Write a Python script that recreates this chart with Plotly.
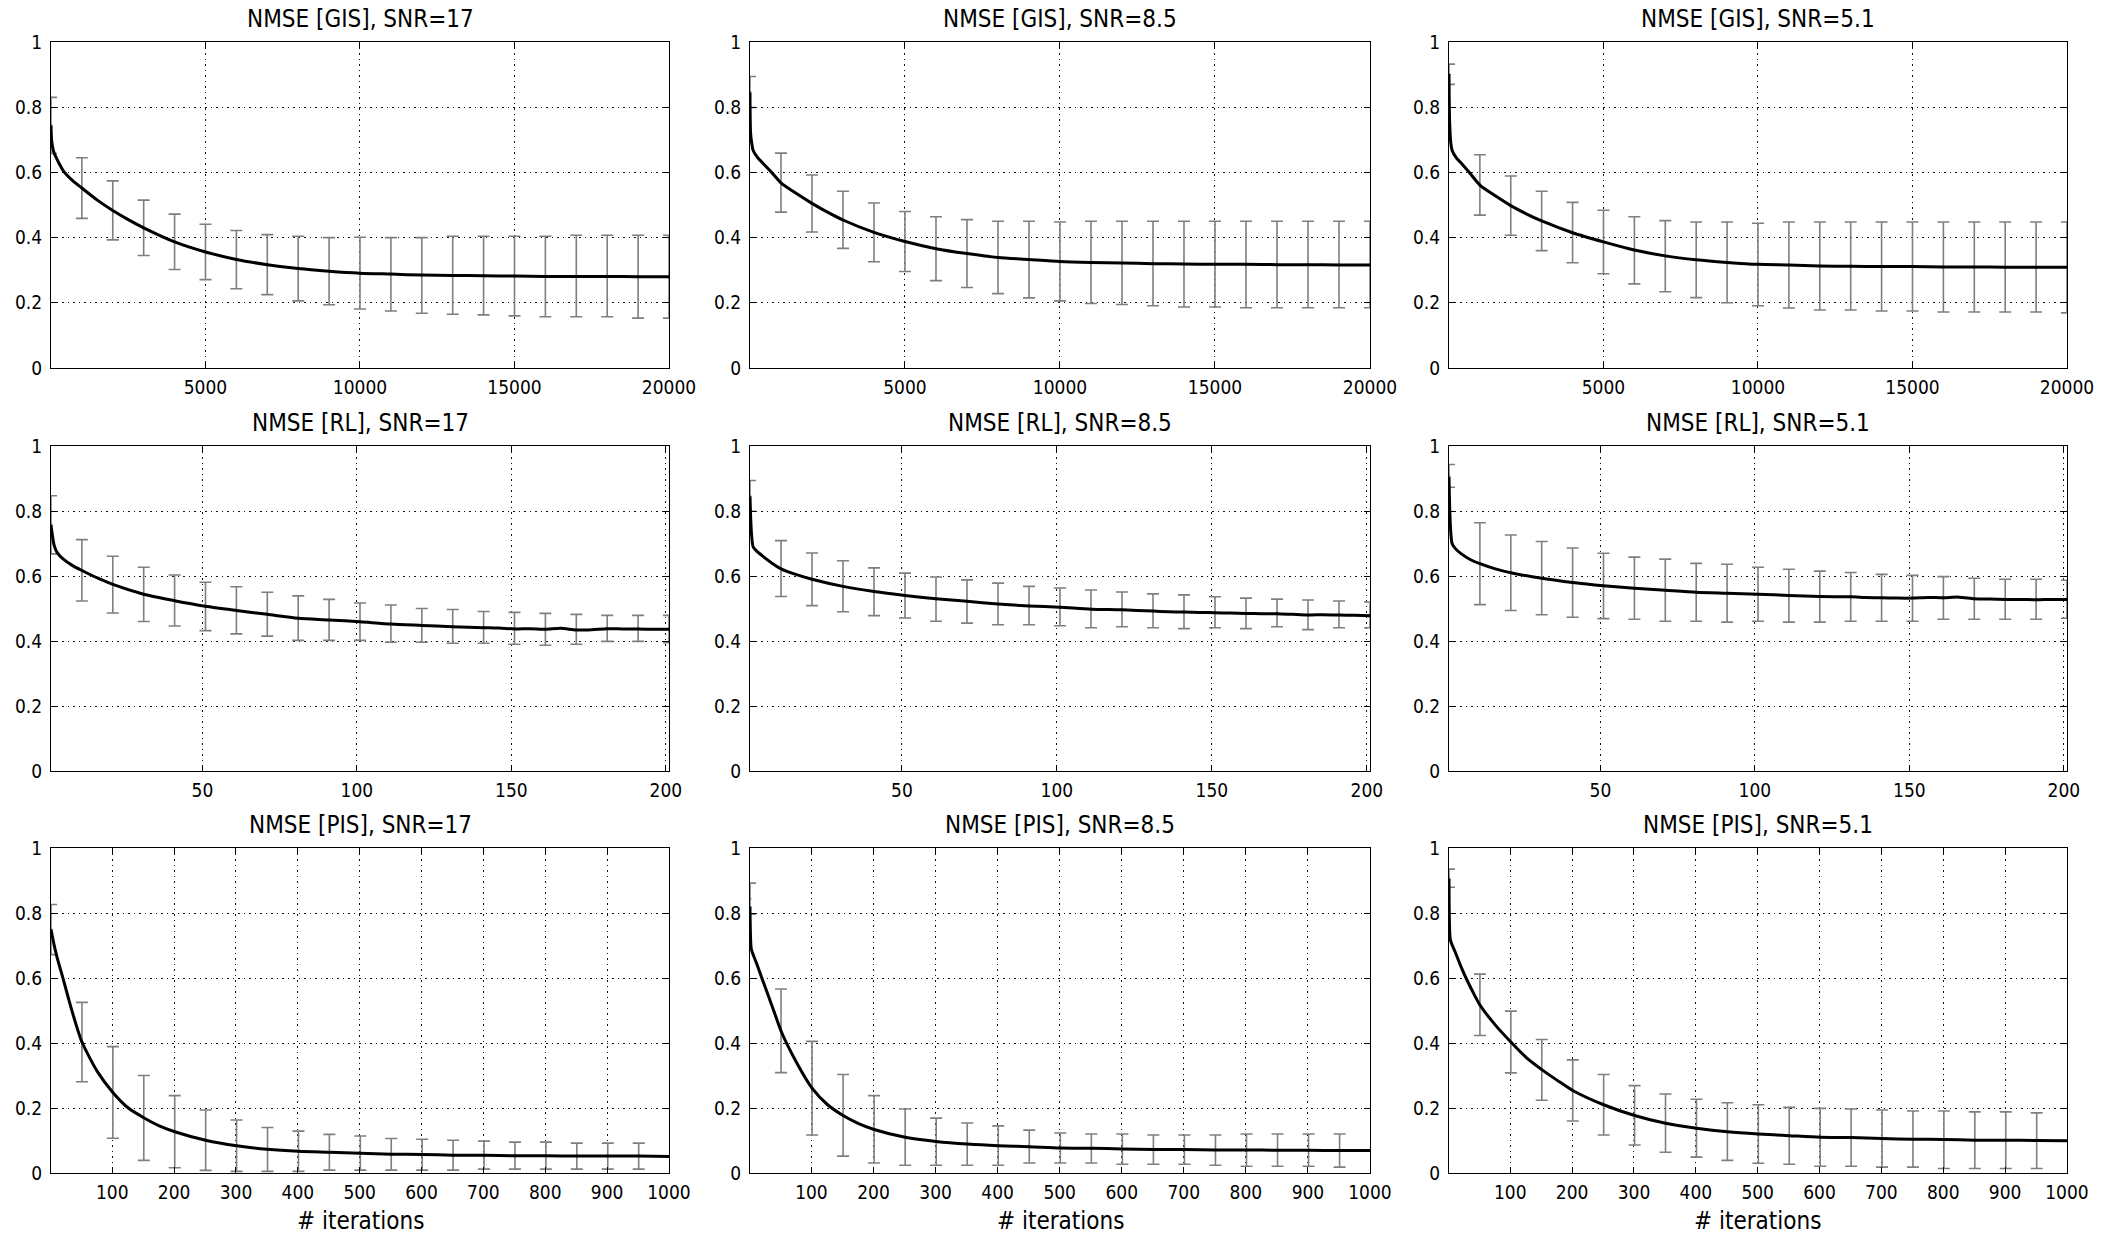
import plotly.graph_objects as go

# ---------------- data ----------------
y_ticks = [0, 0.2, 0.4, 0.6, 0.8, 1]
gis_ticks = [5000, 10000, 15000, 20000]
rl_ticks = [50, 100, 150, 200]
pis_ticks = [100, 200, 300, 400, 500, 600, 700, 800, 900, 1000]

gis_range = [1, 20000]
rl_range = [1, 201]
pis_range = [1, 1000]

titles = ["NMSE [GIS], SNR=17", "NMSE [GIS], SNR=8.5", "NMSE [GIS], SNR=5.1",
          "NMSE [RL], SNR=17", "NMSE [RL], SNR=8.5", "NMSE [RL], SNR=5.1",
          "NMSE [PIS], SNR=17", "NMSE [PIS], SNR=8.5", "NMSE [PIS], SNR=5.1"]
x_label = "# iterations"

# error-bar positions
gis_eb_x = [1, 1000, 2000, 3000, 4000, 5000, 6000, 7000, 8000, 9000, 10000,
            11000, 12000, 13000, 14000, 15000, 16000, 17000, 18000, 19000, 20000]
rl_eb_x = [1, 11, 21, 31, 41, 51, 61, 71, 81, 91, 101, 111, 121, 131, 141,
           151, 161, 171, 181, 191, 201]
pis_eb_x = [1, 51, 101, 151, 201, 251, 301, 351, 401, 451, 501, 551, 601,
            651, 701, 751, 801, 851, 901, 951]

# mean curves
gis_cx = [1, 20, 60, 100, 250, 400, 700, 1000, 1500, 2000, 2500, 3000, 4000,
          5000, 6000, 7000, 8000, 9000, 10000, 11000, 12000, 13000, 14000,
          15000, 16000, 17000, 18000, 19000, 20000]
gis17_cy = [0.744, 0.700, 0.675, 0.660, 0.630, 0.605, 0.575, 0.552, 0.515, 0.483,
            0.455, 0.430, 0.387, 0.356, 0.333, 0.317, 0.305, 0.297, 0.291, 0.288,
            0.285, 0.284, 0.283, 0.282, 0.281, 0.281, 0.281, 0.280, 0.280]
gis85_cy = [0.845, 0.720, 0.688, 0.668, 0.645, 0.630, 0.600, 0.568, 0.535, 0.505,
            0.478, 0.454, 0.416, 0.388, 0.366, 0.351, 0.339, 0.333, 0.327, 0.324,
            0.322, 0.320, 0.319, 0.318, 0.318, 0.317, 0.317, 0.316, 0.316]
gis51_cy = [0.902, 0.760, 0.690, 0.668, 0.643, 0.628, 0.595, 0.561, 0.528, 0.498,
            0.473, 0.451, 0.415, 0.387, 0.362, 0.344, 0.332, 0.324, 0.318, 0.316,
            0.313, 0.312, 0.311, 0.311, 0.310, 0.310, 0.309, 0.309, 0.309]

rl_cx = [1, 2, 3, 5, 8, 11, 16, 21, 31, 41, 51, 61, 71, 81, 91, 101, 111, 121,
         131, 136, 141, 146, 151, 156, 161, 166, 171, 176, 181, 186, 191, 196, 201]
rl17_cy = [0.757, 0.695, 0.672, 0.652, 0.632, 0.617, 0.594, 0.574, 0.544, 0.524,
           0.507, 0.494, 0.482, 0.470, 0.465, 0.459, 0.452, 0.448, 0.444, 0.442,
           0.441, 0.440, 0.437, 0.438, 0.436, 0.439, 0.434, 0.435, 0.438, 0.437,
           0.437, 0.436, 0.436]
rl85_cy = [0.845, 0.690, 0.678, 0.662, 0.640, 0.622, 0.604, 0.590, 0.568, 0.552,
           0.540, 0.530, 0.522, 0.514, 0.508, 0.504, 0.498, 0.496, 0.492, 0.490,
           0.489, 0.488, 0.487, 0.486, 0.485, 0.484, 0.484, 0.482, 0.480, 0.481,
           0.480, 0.479, 0.478]
rl51_cy = [0.905, 0.700, 0.685, 0.668, 0.650, 0.638, 0.622, 0.610, 0.593, 0.580,
           0.570, 0.562, 0.556, 0.550, 0.547, 0.544, 0.540, 0.537, 0.536, 0.534,
           0.533, 0.532, 0.532, 0.534, 0.533, 0.535, 0.530, 0.529, 0.528, 0.528,
           0.527, 0.528, 0.528]

pis_cx = [1, 3, 6, 11, 21, 31, 41, 51, 76, 101, 126, 151, 176, 201, 251, 301, 351,
          401, 451, 501, 551, 601, 651, 701, 751, 801, 851, 901, 951, 1000]
pis17_cy = [0.749, 0.730, 0.702, 0.662, 0.595, 0.525, 0.460, 0.403, 0.312, 0.248,
            0.200, 0.170, 0.145, 0.127, 0.101, 0.084, 0.073, 0.067, 0.064, 0.061,
            0.058, 0.057, 0.055, 0.055, 0.053, 0.053, 0.052, 0.052, 0.052, 0.051]
pis85_cy = [0.820, 0.690, 0.672, 0.648, 0.595, 0.543, 0.490, 0.437, 0.340, 0.261,
            0.210, 0.177, 0.152, 0.134, 0.110, 0.097, 0.089, 0.084, 0.081, 0.077,
            0.076, 0.074, 0.072, 0.072, 0.071, 0.071, 0.070, 0.070, 0.069, 0.069]
pis51_cy = [0.905, 0.720, 0.702, 0.680, 0.632, 0.590, 0.552, 0.517, 0.455, 0.403,
            0.355, 0.318, 0.285, 0.254, 0.210, 0.177, 0.153, 0.138, 0.127, 0.120,
            0.115, 0.110, 0.109, 0.106, 0.104, 0.103, 0.101, 0.101, 0.100, 0.099]

# error-bar upper / lower ends
gis17_hi = [0.830, 0.645, 0.574, 0.515, 0.472, 0.441, 0.422, 0.409, 0.404, 0.400, 0.401,
            0.400, 0.400, 0.404, 0.404, 0.404, 0.404, 0.407, 0.407, 0.407, 0.407]
gis17_lo = [0.658, 0.459, 0.393, 0.345, 0.302, 0.271, 0.243, 0.225, 0.206, 0.194, 0.181,
            0.175, 0.168, 0.165, 0.163, 0.160, 0.157, 0.157, 0.157, 0.153, 0.153]
gis85_hi = [0.894, 0.659, 0.592, 0.542, 0.506, 0.480, 0.464, 0.455, 0.450, 0.450, 0.448,
            0.450, 0.450, 0.450, 0.450, 0.450, 0.450, 0.450, 0.450, 0.450, 0.450]
gis85_lo = [0.799, 0.478, 0.417, 0.367, 0.326, 0.296, 0.268, 0.247, 0.228, 0.215, 0.206,
            0.198, 0.195, 0.191, 0.187, 0.187, 0.185, 0.185, 0.185, 0.185, 0.185]
gis51_hi = [0.932, 0.654, 0.589, 0.542, 0.508, 0.484, 0.464, 0.452, 0.448, 0.448, 0.444,
            0.448, 0.448, 0.448, 0.448, 0.448, 0.448, 0.448, 0.448, 0.448, 0.448]
gis51_lo = [0.870, 0.469, 0.407, 0.360, 0.323, 0.289, 0.258, 0.234, 0.216, 0.200, 0.191,
            0.184, 0.178, 0.178, 0.175, 0.175, 0.172, 0.172, 0.172, 0.172, 0.169]

rl17_hi = [0.847, 0.712, 0.661, 0.627, 0.603, 0.581, 0.567, 0.550, 0.539, 0.528, 0.517,
           0.511, 0.500, 0.497, 0.491, 0.488, 0.485, 0.482, 0.479, 0.479, 0.479]
rl17_lo = [0.668, 0.523, 0.486, 0.460, 0.446, 0.432, 0.422, 0.415, 0.402, 0.402, 0.402,
           0.396, 0.396, 0.393, 0.393, 0.390, 0.387, 0.390, 0.399, 0.399, 0.395]
rl85_hi = [0.894, 0.709, 0.671, 0.647, 0.625, 0.609, 0.597, 0.588, 0.578, 0.568, 0.563,
           0.557, 0.551, 0.545, 0.542, 0.536, 0.532, 0.529, 0.526, 0.523, 0.520]
rl85_lo = [0.799, 0.537, 0.509, 0.490, 0.478, 0.471, 0.461, 0.455, 0.450, 0.450, 0.447,
           0.441, 0.444, 0.441, 0.438, 0.441, 0.438, 0.444, 0.435, 0.441, 0.441]
rl51_hi = [0.943, 0.764, 0.726, 0.706, 0.686, 0.670, 0.658, 0.652, 0.639, 0.636, 0.627,
           0.621, 0.615, 0.611, 0.605, 0.602, 0.598, 0.593, 0.590, 0.590, 0.587]
rl51_lo = [0.873, 0.512, 0.494, 0.481, 0.473, 0.469, 0.467, 0.461, 0.461, 0.458, 0.461,
           0.458, 0.458, 0.461, 0.461, 0.461, 0.467, 0.467, 0.467, 0.467, 0.470]

pis17_hi = [0.826, 0.525, 0.389, 0.300, 0.238, 0.194, 0.163, 0.140, 0.129, 0.119,
            0.114, 0.106, 0.104, 0.101, 0.098, 0.095, 0.095, 0.092, 0.092, 0.092]
pis17_lo = [0.672, 0.281, 0.107, 0.039, 0.016, 0.008, 0.005, 0.005, 0.005, 0.009,
            0.009, 0.009, 0.009, 0.009, 0.012, 0.012, 0.012, 0.012, 0.012, 0.012]
pis85_hi = [0.892, 0.566, 0.405, 0.303, 0.238, 0.197, 0.169, 0.154, 0.145, 0.132,
            0.123, 0.120, 0.120, 0.117, 0.117, 0.117, 0.120, 0.120, 0.120, 0.120]
pis85_lo = [0.796, 0.309, 0.117, 0.052, 0.031, 0.024, 0.024, 0.024, 0.024, 0.031,
            0.031, 0.031, 0.027, 0.027, 0.027, 0.024, 0.021, 0.021, 0.021, 0.018]
pis51_hi = [0.935, 0.612, 0.498, 0.411, 0.348, 0.303, 0.269, 0.243, 0.227, 0.216,
            0.210, 0.202, 0.199, 0.197, 0.194, 0.191, 0.191, 0.188, 0.188, 0.185]
pis51_lo = [0.879, 0.423, 0.308, 0.224, 0.160, 0.117, 0.086, 0.064, 0.049, 0.039,
            0.030, 0.027, 0.021, 0.021, 0.018, 0.018, 0.014, 0.014, 0.014, 0.014]

panels = [
    (gis_cx, gis17_cy, gis_eb_x, gis17_hi, gis17_lo, gis_range, gis_ticks),
    (gis_cx, gis85_cy, gis_eb_x, gis85_hi, gis85_lo, gis_range, gis_ticks),
    (gis_cx, gis51_cy, gis_eb_x, gis51_hi, gis51_lo, gis_range, gis_ticks),
    (rl_cx, rl17_cy, rl_eb_x, rl17_hi, rl17_lo, rl_range, rl_ticks),
    (rl_cx, rl85_cy, rl_eb_x, rl85_hi, rl85_lo, rl_range, rl_ticks),
    (rl_cx, rl51_cy, rl_eb_x, rl51_hi, rl51_lo, rl_range, rl_ticks),
    (pis_cx, pis17_cy, pis_eb_x, pis17_hi, pis17_lo, pis_range, pis_ticks),
    (pis_cx, pis85_cy, pis_eb_x, pis85_hi, pis85_lo, pis_range, pis_ticks),
    (pis_cx, pis51_cy, pis_eb_x, pis51_hi, pis51_lo, pis_range, pis_ticks),
]

# ---------------- layout / styling ----------------
W, H = 2101, 1237
FONT = "DejaVu Sans Condensed, Liberation Sans Narrow, DejaVu Sans, sans-serif"
col_dom = [(51 / W, 669 / W), (750 / W, 1370 / W), (1449 / W, 2067 / W)]
row_dom = [(1 - 368 / H, 1 - 42 / H), (1 - 771 / H, 1 - 446 / H), (1 - 1173 / H, 1 - 848 / H)]
EB_GRAY = "#7f7f7f"

fig = go.Figure()
layout = dict(
    width=W, height=H, paper_bgcolor="white", plot_bgcolor="white",
    margin=dict(l=0, r=0, t=0, b=0, autoexpand=False), showlegend=False,
    font=dict(family=FONT, color="black", size=19),
)
annotations = []

for i, (cx, cy, ex, hi, lo, xr, xt) in enumerate(panels):
    r, c = divmod(i, 3)
    n = i + 1
    xa = "x" if n == 1 else f"x{n}"
    ya = "y" if n == 1 else f"y{n}"
    mid = [(h + l) / 2 for h, l in zip(hi, lo)]
    plus = [h - m for h, m in zip(hi, mid)]
    minus = [m - l for m, l in zip(mid, lo)]

    fig.add_trace(go.Scatter(
        x=ex, y=mid, mode="markers", xaxis=xa, yaxis=ya,
        marker=dict(size=3, color=EB_GRAY),
        error_y=dict(type="data", symmetric=False, array=plus, arrayminus=minus,
                     color=EB_GRAY, thickness=1.6, width=6),
        hoverinfo="skip"))
    fig.add_trace(go.Scatter(
        x=cx, y=cy, mode="lines", xaxis=xa, yaxis=ya,
        line=dict(color="black", width=3, shape="spline", smoothing=0.7),
        hoverinfo="skip"))

    axis_common = dict(showline=True, linecolor="black", linewidth=1.2, mirror="ticks",
                       ticks="inside", ticklen=6, tickcolor="black", automargin=False,
                       showgrid=True, gridcolor="#111111", griddash="1.5px,4px", gridwidth=1.2,
                       zeroline=False, tickfont=dict(family=FONT, size=19, color="black"))
    layout["xaxis" if n == 1 else f"xaxis{n}"] = dict(
        axis_common, domain=list(col_dom[c]), range=xr, tickvals=xt,
        ticktext=[str(v) for v in xt], anchor=ya, ticklabelstandoff=2)
    layout["yaxis" if n == 1 else f"yaxis{n}"] = dict(
        axis_common, domain=list(row_dom[r]), range=[0, 1], tickvals=y_ticks,
        ticktext=[f"{v:g}" for v in y_ticks], anchor=xa, ticklabelstandoff=4)

    annotations.append(dict(
        text=titles[i], xref="paper", yref="paper",
        x=(col_dom[c][0] + col_dom[c][1]) / 2, y=row_dom[r][1],
        xanchor="center", yanchor="bottom", yshift=7, showarrow=False,
        font=dict(family=FONT, size=24, color="black")))
    if r == 2:
        annotations.append(dict(
            text=x_label, xref="paper", yref="paper",
            x=(col_dom[c][0] + col_dom[c][1]) / 2, y=row_dom[r][0],
            xanchor="center", yanchor="middle", yshift=-48, showarrow=False,
            font=dict(family=FONT, size=24, color="black")))

layout["annotations"] = annotations
fig.update_layout(**layout)
fig.write_html(
    "out.html",
    config={"displayModeBar": False},
    post_script="document.body.style.margin='0';document.body.style.overflow='hidden';",
)
